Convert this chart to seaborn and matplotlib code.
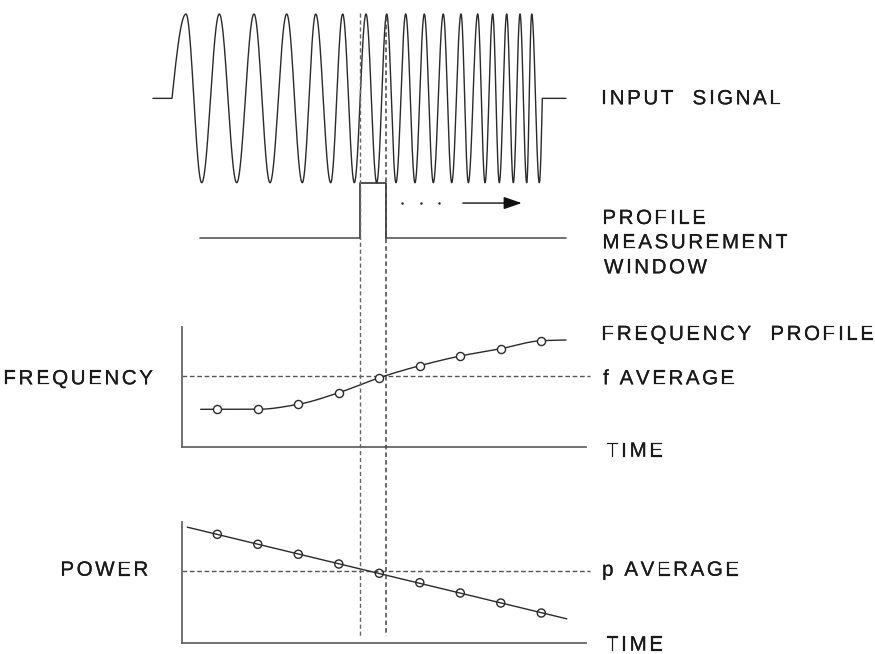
import numpy as np
import matplotlib
matplotlib.use("Agg")
import matplotlib.pyplot as plt
import matplotlib.patheffects as pe
import seaborn as sns
from matplotlib.font_manager import FontProperties, findfont, get_font
from matplotlib.patches import FancyArrowPatch

# ---------------------------------------------------------------- data
# sample instants of the profile measurement (time units)
sample_t = [1, 2, 3, 4, 5, 6, 7, 8, 9]

# frequency profile measured at each sample instant
freq_values = [3.80, 3.80, 4.30, 5.46, 6.96, 8.16, 9.13, 9.86, 10.66]
freq_average = 7.16
freq_curve_start = (0.59, 3.80)
freq_curve_end = (9.61, 10.73)

# power measured at each sample instant
power_values = [10.84, 9.84, 8.84, 7.87, 6.94, 6.00, 4.97, 3.97, 2.97]
power_average = 7.17
power_line_span = (0.26, 9.63)

# input chirp: burst start / stop and the instants of its alternating peaks and troughs
signal_rest_span = (-0.588, 9.610)
signal_on = -0.119
signal_off = 9.025
signal_extrema_t = [
    0.227, 0.615, 1.049, 1.479, 1.906, 2.301, 2.714, 3.099, 3.430, 3.800,
    4.096, 4.383, 4.672, 4.936, 5.183, 5.412, 5.652, 5.881, 6.111, 6.333,
    6.580, 6.788, 7.017, 7.198, 7.430, 7.610, 7.800, 7.963, 8.146, 8.309,
    8.474, 8.640, 8.763, 8.951,
]

# measurement window and its sweep direction
window_open = 4.523
window_close = 5.158
window_rest_span = (0.573, 9.610)
sweep_dots_t = [5.553, 6.022, 6.481]
sweep_arrow_t = (7.062, 8.516)

# extent of the time axes
time_axis_span = (0.136, 10.104)
average_line_end = 10.20

right_labels = ["INPUT  SIGNAL", "PROFILE", "MEASUREMENT", "WINDOW",
                "FREQUENCY  PROFILE", "f AVERAGE", "TIME", "p AVERAGE", "TIME"]
left_labels = ["FREQUENCY", "POWER"]

# ---------------------------------------------------------------- style
sns.set_theme(style="white")
plt.rcParams["font.family"] = ["Liberation Sans", "DejaVu Sans"]

INK = "#1a1a1a"
LINE = "#2a2a2a"
GREY = "#666666"
DASH = "#555555"
DASHES = (3.4, 1.9)

W, H = 875, 654
XLIM = (-4.3654, 17.2395)

fig = plt.figure(figsize=(W / 100, H / 100), dpi=100)
fig.patch.set_facecolor("white")


def panel(top_px, bottom_px):
    ax = fig.add_axes([0, 1 - bottom_px / H, 1, (bottom_px - top_px) / H])
    ax.set_xlim(*XLIM)
    ax.set_facecolor("none")
    ax.set_xticks([])
    ax.set_yticks([])
    for s in ax.spines.values():
        s.set_visible(False)
    return ax


def pchip(x, y, xs):
    x = np.asarray(x, float)
    y = np.asarray(y, float)
    h = np.diff(x)
    d = np.diff(y) / h
    m = np.zeros_like(y)
    for k in range(1, len(x) - 1):
        if d[k - 1] * d[k] > 0:
            w1 = 2 * h[k] + h[k - 1]
            w2 = h[k] + 2 * h[k - 1]
            m[k] = (w1 + w2) / (w1 / d[k - 1] + w2 / d[k])
    m[0], m[-1] = d[0], d[-1]
    i = np.clip(np.searchsorted(x, xs) - 1, 0, len(h) - 1)
    s = (xs - x[i]) / h[i]
    h00 = 2 * s**3 - 3 * s**2 + 1
    h10 = s**3 - 2 * s**2 + s
    h01 = -2 * s**3 + 3 * s**2
    h11 = s**3 - s**2
    return h00 * y[i] + h10 * h[i] * m[i] + h01 * y[i + 1] + h11 * h[i] * m[i + 1]


# ---------------------------------------------------------------- input signal
ax_sig = panel(14, 182.7)
ax_sig.set_ylim(-1, 1)
knots_t = [signal_on] + signal_extrema_t + [signal_off]
knots_phase = [0.0] + [np.pi / 2 + k * np.pi for k in range(len(signal_extrema_t))]
knots_phase.append(knots_phase[-1] + np.pi / 2)
tt = np.linspace(signal_on, signal_off, 6000)
burst = np.sin(np.interp(tt, knots_t, knots_phase))
sig_t = np.concatenate([[signal_rest_span[0]], tt, [signal_rest_span[1]]])
sig_y = np.concatenate([[0.0], burst, [0.0]])
sns.lineplot(x=sig_t, y=sig_y, ax=ax_sig, sort=False, estimator=None,
             color=LINE, linewidth=1.0, clip_on=False)

# ---------------------------------------------------------------- window
ax_win = panel(182.7, 237.7)
ax_win.set_ylim(0, 1)
win_t = [window_rest_span[0], window_open, window_open, window_close, window_close,
         window_rest_span[1]]
win_y = [0, 0, 1, 1, 0, 0]
ax_win.plot(win_t[:2], win_y[:2], color=GREY, lw=1.3, clip_on=False)
ax_win.plot(win_t[4:], win_y[4:], color=GREY, lw=1.3, clip_on=False)
sns.lineplot(x=win_t[1:5], y=win_y[1:5], ax=ax_win, sort=False, estimator=None,
             color="#333333", linewidth=1.2, clip_on=False)
ax_win.scatter(sweep_dots_t, [0.63] * len(sweep_dots_t), s=3, color=INK,
               linewidths=0, clip_on=False)
ax_win.add_patch(FancyArrowPatch((sweep_arrow_t[0], 0.63), (sweep_arrow_t[1], 0.63),
                                 arrowstyle="-|>,head_length=1.1,head_width=0.38",
                                 mutation_scale=10, color="#111111", lw=1.0,
                                 shrinkA=0, shrinkB=0, clip_on=False))


def profile_axes(ax, top_value):
    ax.set_ylim(0, top_value)
    for side in ("left", "bottom"):
        ax.spines[side].set_visible(True)
        ax.spines[side].set_color(GREY)
        ax.spines[side].set_linewidth(1.3)
    ax.spines["left"].set_position(("data", time_axis_span[0]))
    ax.spines["bottom"].set_bounds(*time_axis_span)


# ---------------------------------------------------------------- frequency profile
ax_f = panel(326.7, 447.3)
profile_axes(ax_f, 12.06)
ax_f.plot([time_axis_span[0], average_line_end], [freq_average] * 2, color=DASH,
          lw=1.0, dashes=DASHES, zorder=1)
ft_knots = [freq_curve_start[0]] + sample_t + [freq_curve_end[0]]
fv_knots = [freq_curve_start[1]] + freq_values + [freq_curve_end[1]]
ft_dense = np.linspace(ft_knots[0], ft_knots[-1], 800)
sns.lineplot(x=ft_dense, y=pchip(ft_knots, fv_knots, ft_dense), ax=ax_f,
             color=LINE, linewidth=1.0, zorder=2)
sns.scatterplot(x=sample_t, y=freq_values, ax=ax_f, s=34, marker="o",
                facecolor="white", edgecolor=LINE, linewidth=1.0, zorder=3)

# ---------------------------------------------------------------- power
ax_p = panel(521.7, 642.7)
profile_axes(ax_p, 12.1)
ax_p.plot([time_axis_span[0], average_line_end], [power_average] * 2, color=DASH,
          lw=1.0, dashes=DASHES, zorder=1)
slope, icpt = np.polyfit(sample_t, power_values, 1)
pl_t = np.array(power_line_span)
sns.lineplot(x=pl_t, y=slope * pl_t + icpt, ax=ax_p, color=LINE, linewidth=1.0,
             zorder=2)
sns.scatterplot(x=sample_t, y=power_values, ax=ax_p, s=34, marker="o",
                facecolor="none", edgecolor=LINE, linewidth=1.0, zorder=3)

# ---------------------------------------------------------------- window edges through all panels
ax_v = fig.add_axes([0, 0, 1, 1])
ax_v.set_xlim(*XLIM)
ax_v.set_ylim(H, 0)
ax_v.axis("off")
ax_v.plot([window_open] * 2, [13, 636], color="#666666", lw=1.0, dashes=(3.0, 2.0))
ax_v.plot([window_close] * 2, [17, 636], color="#444444", lw=1.1, dashes=(3.0, 2.0))

# ---------------------------------------------------------------- labels
ax_t = fig.add_axes([0, 0, 1, 1])
ax_t.set_xlim(0, W)
ax_t.set_ylim(H, 0)
ax_t.axis("off")

TXT_SIZE = 14.8
TRACK = 2.6
prop = FontProperties(family="Liberation Sans", size=TXT_SIZE)
ftfont = get_font(findfont(prop))
firmer = [pe.withStroke(linewidth=0.15, foreground=INK)]


def glyph(c):
    ftfont.set_size(TXT_SIZE, 100)
    return ftfont.load_char(ord(c))


def tracked(x_ink, y_base, s):
    x = x_ink - glyph(s[0]).horiBearingX / 64.0
    for c in s:
        g = glyph(c)
        if c != " ":
            ax_t.text(x, y_base, c, fontproperties=prop, color=INK,
                      ha="left", va="baseline", path_effects=firmer)
        x += g.linearHoriAdvance / 65536.0 + TRACK


right_pos = [(603.3, 104.3), (604.0, 224.0), (604.0, 248.3), (604.0, 273.3),
             (603.3, 340.0), (603.3, 384.3), (606.7, 456.7), (603.3, 575.7),
             (606.7, 650.5)]
for s, (x, y) in zip(right_labels, right_pos):
    tracked(x, y, s)

left_pos = [(5.0, 384.3), (62.0, 575.7)]
for s, (x, y) in zip(left_labels, left_pos):
    tracked(x, y, s)

fig.savefig("out.png", dpi=100, facecolor="white")
